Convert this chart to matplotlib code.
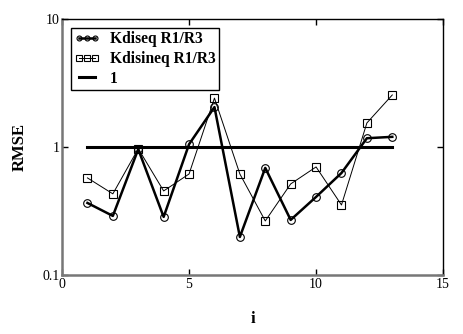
import matplotlib
matplotlib.use('Agg')
import matplotlib.pyplot as plt
from matplotlib.ticker import FixedLocator, FixedFormatter, NullLocator

plt.rcParams['font.family'] = 'Liberation Serif'

# RMSE values
i_vals = [1, 2, 3, 4, 5, 6, 7, 8, 9, 10, 11, 12, 13]
kdiseq = [0.365, 0.289, 0.96, 0.284, 1.05, 2.05, 0.198, 0.686, 0.269, 0.407, 0.626, 1.17, 1.2]
kdisineq = [0.573, 0.43, 0.97, 0.453, 0.615, 2.41, 0.615, 0.264, 0.514, 0.698, 0.352, 1.54, 2.55]
ref_x = [1, 13]
ref_y = [1, 1]

fig = plt.figure(figsize=(4.63, 3.34), dpi=100)
ax = fig.add_axes([0.134, 0.177, 0.823, 0.766])

ax.plot(i_vals, kdiseq, color='black', lw=1.8, marker='o', ms=5.5,
        mfc='none', mec='black', mew=0.8, label='Kdiseq R1/R3')
ax.plot(i_vals, kdisineq, color='black', lw=0.7, marker='s', ms=6,
        mfc='none', mec='black', mew=0.8, label='Kdisineq R1/R3')
ax.plot(ref_x, ref_y, color='black', lw=2.2, label='1')

ax.set_yscale('log')
ax.set_xlim(0, 15)
ax.set_ylim(0.1, 10)

ax.xaxis.set_major_locator(FixedLocator([0, 5, 10, 15]))
ax.yaxis.set_major_locator(FixedLocator([0.1, 1, 10]))
ax.yaxis.set_major_formatter(FixedFormatter(['0.1', '1', '10']))
ax.yaxis.set_minor_locator(NullLocator())
ax.tick_params(direction='in', length=4, width=1, labelsize=10,
               top=True, right=True, pad=2)

for side in ['left', 'bottom']:
    ax.spines[side].set_color('#777777')
    ax.spines[side].set_linewidth(1.8)
for side in ['top', 'right']:
    ax.spines[side].set_color('black')
    ax.spines[side].set_linewidth(1)

ax.set_xlabel('i', fontsize=12, fontweight='bold', labelpad=15)
ax.set_ylabel('RMSE', fontsize=12, fontweight='bold', labelpad=10)

leg = ax.legend(loc='upper left', bbox_to_anchor=(0.024, 0.965), borderaxespad=0,
                numpoints=3, handlelength=1.6, handletextpad=0.7, borderpad=0.2,
                labelspacing=0.25, fancybox=False, framealpha=1,
                edgecolor='black', prop={'weight': 'bold', 'size': 11.2},
                markerscale=0.65)
leg.get_frame().set_linewidth(1)

fig.savefig('out.png', dpi=100)
